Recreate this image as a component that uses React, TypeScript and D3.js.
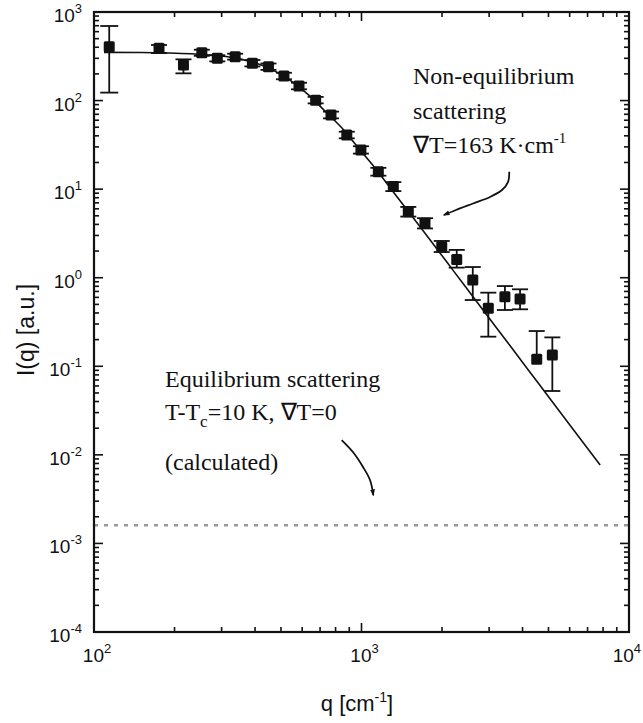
import React from 'react';
import * as d3 from 'd3';

// Measured scattering intensity (non-equilibrium)
const qData = [114, 175, 216, 253, 289, 337, 391, 449, 513, 584, 674, 769, 881, 995, 1156, 1315, 1496, 1727, 1995, 2270, 2606, 2979, 3436, 3915, 4519, 5169];
const iData = [406, 389, 252, 347, 300, 313, 264, 241, 189, 146, 101, 68.7, 40.8, 27.7, 15.7, 10.7, 5.56, 4.11, 2.24, 1.61, 0.942, 0.452, 0.611, 0.575, 0.12, 0.134];
const iHigh = [695, 424, 292, 375, 325, 338, 287, 262, 206, 159, 110, 75, 44.5, 30.5, 17.4, 12.0, 6.3, 4.7, 2.6, 2.06, 1.32, 0.678, 0.805, 0.74, 0.25, 0.212];
const iLow = [123, 344, 203, 320, 277, 290, 243, 222, 174, 134, 93, 63, 37.5, 25.2, 14.2, 9.5, 4.9, 3.6, 1.95, 1.3, 0.56, 0.216, 0.432, 0.44, 0.12, 0.0526];

// Theoretical curve
const fitQ = [109, 150, 190, 230, 270, 320, 370, 420, 480, 550, 640, 740, 850, 980, 1130, 1300, 1500, 1800, 2200, 2800, 3600, 4600, 6000, 7800];
const fitI = [350, 349, 345, 338, 327, 310, 284, 254, 211, 164, 113, 73, 48, 28.5, 17, 9.7, 5.55, 2.7, 1.21, 0.46, 0.169, 0.0634, 0.0219, 0.0077];

// Calculated equilibrium level
const eqLevel = 0.0016;

// Arrow annotations in data coordinates
const arrowNonEqQ = [3568, 3529, 3351, 3023, 2611, 2256, 2034];
const arrowNonEqI = [15.7, 12.0, 9.78, 8.15, 6.88, 5.81, 5.1];
const arrowEqQ = [843, 929, 1013, 1076, 1107];
const arrowEqI = [0.0147, 0.01076, 0.0073, 0.0052, 0.00352];

// Tick label exponents
const xTickExps = [2, 3, 4];
const yTickExps = [3, 2, 1, 0, -1, -2, -3, -4];

export default function App() {
  const W = 643, H = 723;
  const L = 94, R = 629, T = 12, B = 632;
  const x = d3.scaleLog().domain([100, 10000]).range([L, R]);
  const y = d3.scaleLog().domain([1e-4, 1e3]).range([B, T]);
  const isMajor = (t: number) => Math.abs(Math.log10(t) - Math.round(Math.log10(t))) < 1e-9;

  const line = d3.line<[number, number]>().x(d => x(d[0])).y(d => y(d[1])).curve(d3.curveMonotoneX);
  const fitPts: [number, number][] = fitQ.map((q, i) => [q, fitI[i]]);
  const arrowLine = d3.line<[number, number]>().x(d => x(d[0])).y(d => y(d[1])).curve(d3.curveCatmullRom);
  const a1: [number, number][] = arrowNonEqQ.map((q, i) => [q, arrowNonEqI[i]]);
  const a2: [number, number][] = arrowEqQ.map((q, i) => [q, arrowEqI[i]]);

  const xt = x.ticks();
  const yt = y.ticks();
  const sans = "'Liberation Sans', Arial, Helvetica, sans-serif";
  const serif = "'Liberation Serif', 'Times New Roman', serif";
  const ink = '#111';

  return (
    <svg width={W} height={H} style={{ position: 'absolute', left: 0, top: 0, background: '#fff' }}>
      <defs>
        <marker id="ah" viewBox="0 0 10 10" refX="8" refY="5" markerWidth="7" markerHeight="7" orient="auto" markerUnits="userSpaceOnUse">
          <path d="M0,1.5 L10,5 L0,8.5 z" fill={ink} />
        </marker>
      </defs>
      <rect x={0} y={0} width={W} height={H} fill="#fff" />

      {/* equilibrium dashed level */}
      <line x1={x(100)} x2={x(10000)} y1={y(eqLevel)} y2={y(eqLevel)} stroke="#999" strokeWidth={2.5} strokeDasharray="4 6" />

      {/* ticks */}
      {xt.map((t, i) => {
        const len = isMajor(t) ? 9 : 5;
        return (
          <g key={'xt' + i}>
            <line x1={x(t)} x2={x(t)} y1={B} y2={B - len} stroke={ink} strokeWidth={1.6} />
            <line x1={x(t)} x2={x(t)} y1={T} y2={T + len} stroke={ink} strokeWidth={1.6} />
          </g>
        );
      })}
      {yt.map((t, i) => {
        const len = isMajor(t) ? 9 : 5;
        return (
          <g key={'yt' + i}>
            <line x1={L} x2={L + len} y1={y(t)} y2={y(t)} stroke={ink} strokeWidth={1.6} />
            <line x1={R} x2={R - len} y1={y(t)} y2={y(t)} stroke={ink} strokeWidth={1.6} />
          </g>
        );
      })}

      {/* frame */}
      <rect x={L} y={T} width={R - L} height={B - T} fill="none" stroke={ink} strokeWidth={2.2} />

      {/* tick labels */}
      {xTickExps.map((e, i) => {
        const last = i === xTickExps.length - 1;
        return (
          <text key={'xl' + e} x={last ? W - 2 : x(Math.pow(10, e)) + 3} y={B + 30} textAnchor={last ? 'end' : 'middle'} fontFamily={sans} fontSize={19} fill={ink}>
            10<tspan dy={-9} fontSize={13}>{e}</tspan>
          </text>
        );
      })}
      {yTickExps.map(e => (
        <text key={'yl' + e} x={82} y={y(Math.pow(10, e)) + 10} textAnchor="end" fontFamily={sans} fontSize={19} fill={ink}>
          10<tspan dy={-9} fontSize={13}>{e < 0 ? '-' + Math.abs(e) : e}</tspan>
        </text>
      ))}

      {/* axis titles */}
      <text x={357} y={711} textAnchor="middle" fontFamily={sans} fontSize={22} fill={ink}>
        q [cm<tspan dy={-9} fontSize={14}>-1</tspan><tspan dy={9}>]</tspan>
      </text>
      <text transform="translate(34,330) rotate(-90)" textAnchor="middle" fontFamily={sans} fontSize={23} fill={ink}>
        I(q) [a.u.]
      </text>

      {/* fit curve */}
      <path d={line(fitPts) || ''} fill="none" stroke={ink} strokeWidth={1.6} />

      {/* error bars & markers */}
      {qData.map((q, i) => {
        const cx = x(q);
        const cw = i === 0 ? 9 : 8;
        return (
          <g key={'p' + i}>
            <line x1={cx} x2={cx} y1={y(iHigh[i])} y2={y(iLow[i])} stroke={ink} strokeWidth={1.8} />
            <line x1={cx - cw} x2={cx + cw} y1={y(iHigh[i])} y2={y(iHigh[i])} stroke={ink} strokeWidth={1.8} />
            {iLow[i] < iData[i] && (
              <line x1={cx - cw} x2={cx + cw} y1={y(iLow[i])} y2={y(iLow[i])} stroke={ink} strokeWidth={1.8} />
            )}
            <rect x={cx - 5.5} y={y(iData[i]) - 5.5} width={11} height={11} rx={1.5} fill={ink} />
          </g>
        );
      })}

      {/* annotations */}
      <g fontFamily={serif} fontSize={24} fill={ink}>
        <text x={413} y={84}>Non-equilibrium</text>
        <text x={413} y={119}>scattering</text>
        <text x={413} y={153}>∇T=163 K·cm<tspan dy={-10} fontSize={15}>-1</tspan></text>
        <text x={165} y={387}>Equilibrium scattering</text>
        <text x={165} y={420}>T-T<tspan dy={7} fontSize={17}>c</tspan><tspan dy={-7}>=10 K, ∇T=0</tspan></text>
        <text x={165} y={470}>(calculated)</text>
      </g>
      <path d={arrowLine(a1) || ''} fill="none" stroke={ink} strokeWidth={1.8} markerEnd="url(#ah)" />
      <path d={arrowLine(a2) || ''} fill="none" stroke={ink} strokeWidth={1.8} markerEnd="url(#ah)" />
    </svg>
  );
}
